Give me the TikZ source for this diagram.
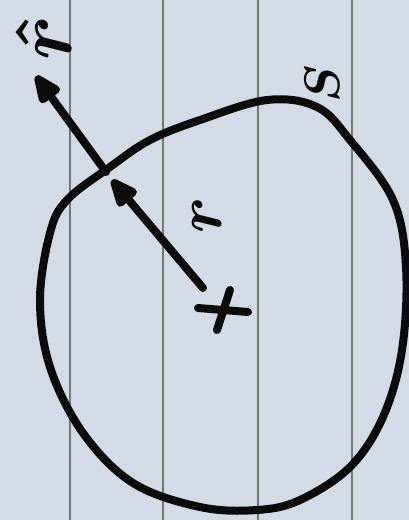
\documentclass[tikz,border=0pt]{standalone}
\usepackage{xcolor}
\usepackage{amsmath, amssymb}
\usepackage{tikz}
\usetikzlibrary{positioning,arrows.meta,calc}

\definecolor{paper}{HTML}{D3DBE6}
\definecolor{ruleline}{HTML}{737776}
\definecolor{ink}{HTML}{0B0B0B}

\begin{document}
\begin{tikzpicture}[
  x=1pt, y=-1pt, >=Stealth,
  pen/.style={draw=ink, line width=8pt, line cap=round, line join=round},
  arr/.style={pen, -{Triangle[length=34pt, width=26pt, round]}},
  lbl/.style={text=ink, rotate=90, inner sep=0pt},
  ruling/.style={draw=ruleline, line width=1.6pt},
]
\useasboundingbox[fill=paper] (0,0) rectangle (409,520);
\foreach \x in {70,163,258,352}
  \draw[ruling] (\x,0) -- (\x,520);

% sphere outline
\draw[pen] plot[smooth cycle, tension=0.6] coordinates {
  (267,100) (317,107) (350,140) (393,200) (406,267) (402,350)
  (383,417) (350,467) (300,500) (257,510) (200,507) (133,483)
  (83,433) (50,367) (40,300) (50,233) (67,200) (110,167)
  (150,140) (200,120)};

\coordinate (O) at (203,288);
\coordinate (P) at (112,180);
\coordinate (Q) at (106,172);
\coordinate (T) at (36,76);

% centre mark
\draw[pen] (198,308) -- (248,312);
\draw[pen] (230,290) -- (217,330);

\draw[arr] (O) -- (P);
\draw[arr] (Q) -- (T);

\node[lbl, scale=6.5] (rlab) at (207,215) {$\boldsymbol{r}$};
\node[lbl, scale=8] (nlab) at (44,38) {$\boldsymbol{\hat{r}}$};
\node[lbl, scale=5] (slab) at (322,84) {$\boldsymbol{S}$};
\end{tikzpicture}
\end{document}
